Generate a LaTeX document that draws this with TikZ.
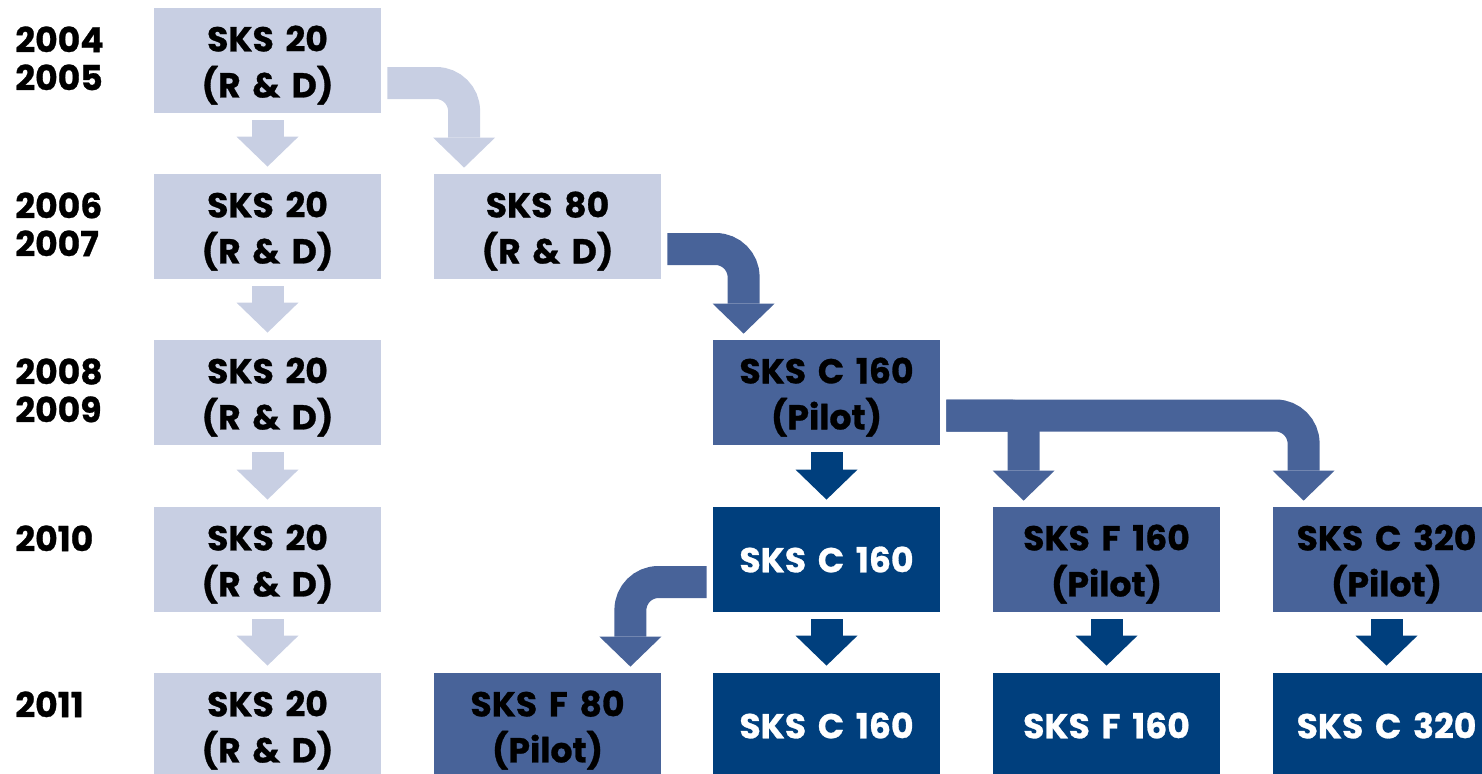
\documentclass[tikz,border=0pt]{standalone}
\usepackage{fontspec}
\setmainfont{Poppins}[BoldFeatures={FakeBold=0.8},WordSpace=1.6]
\usetikzlibrary{arrows.meta,calc}
\definecolor{lightb}{RGB}{200,207,227}
\definecolor{midb}{RGB}{72,99,153}
\definecolor{darkb}{RGB}{0,63,125}
\newcommand\twoline[2]{\raisebox{-2.3pt}[\height][\depth]{#1}\\\raisebox{-2.3pt}[\height][\depth]{#2}}
\begin{document}
\begin{tikzpicture}[x=0.5pt,y=-0.5pt,
  box/.style={minimum width=113.5pt,minimum height=52.5pt,inner sep=0pt,align=center,
    font=\fontsize{17.3}{23}\selectfont\bfseries},
  lbox/.style={box,fill=lightb,text=black},
  mbox/.style={box,fill=midb,text=black},
  dbox/.style={box,fill=darkb,text=white},
  year/.style={anchor=north west,inner sep=0pt,align=left,
    font=\fontsize{17.3}{19}\selectfont\bfseries},
  blk/.style={line width=16pt,line cap=butt,
    -{Triangle[width=31pt,length=15pt,line width=0pt]},
    shorten <=3.5pt,shorten >=3.5pt},
  lblk/.style={blk,draw=lightb},
  mblk/.style={blk,draw=midb},
  dblk/.style={blk,draw=darkb},
  curved/.style={rounded corners=14pt,shorten <=3pt,shorten >=3pt}]
\useasboundingbox (0,0) rectangle (1482,773);
% column 1
\node[lbox] (r1c1) at (267.5,60.5) {\twoline{SKS 20}{(R \& D)}};
\node[lbox] (r2c1) at (267.5,226.5) {\twoline{SKS 20}{(R \& D)}};
\node[lbox] (r3c1) at (267.5,392.5) {\twoline{SKS 20}{(R \& D)}};
\node[lbox] (r4c1) at (267.5,559.5) {\twoline{SKS 20}{(R \& D)}};
\node[lbox] (r5c1) at (267.5,725.5) {\twoline{SKS 20}{(R \& D)}};
% column 2
\node[lbox] (r2c2) at (547.5,226.5) {\twoline{SKS 80}{(R \& D)}};
\node[mbox] (r5c2) at (547.5,725.5) {\twoline{SKS F 80}{(Pilot)}};
% column 3
\node[mbox] (r3c3) at (826.5,392.5) {\twoline{SKS C 160}{(Pilot)}};
\node[dbox] (r4c3) at (826.5,559.5) {SKS C 160};
\node[dbox] (r5c3) at (826.5,725.5) {SKS C 160};
% column 4
\node[mbox] (r4c4) at (1106.5,559.5) {\twoline{SKS F 160}{(Pilot)}};
\node[dbox] (r5c4) at (1106.5,725.5) {SKS F 160};
% column 5
\node[mbox] (r4c5) at (1386.5,559.5) {\twoline{SKS C 320}{(Pilot)}};
\node[dbox] (r5c5) at (1386.5,725.5) {SKS C 320};
% years
\node[year] (y1) at (15,26) {2004\\2005};
\node[year] (y2) at (15,192) {2006\\2007};
\node[year] (y3) at (15,358) {2008\\2009};
\node[year] (y4) at (15,525) {2010};
\node[year] (y5) at (15,691) {2011};
% straight arrows
\draw[lblk] (r1c1.south) -- (r2c1.north);
\draw[lblk] (r2c1.south) -- (r3c1.north);
\draw[lblk] (r3c1.south) -- (r4c1.north);
\draw[lblk] (r4c1.south) -- (r5c1.north);
\draw[dblk] (r3c3.south) -- (r4c3.north);
\draw[dblk] (r4c3.south) -- (r5c3.north);
\draw[dblk] (r4c4.south) -- (r5c4.north);
\draw[dblk] (r4c5.south) -- (r5c5.north);
% curved arrows
\coordinate (s1) at ($(r1c1.east)+(0,22.5)$);
\coordinate (s2) at ($(r2c2.east)+(0,22.5)$);
\coordinate (s3) at ($(r3c3.east)+(0,23)$);
\coordinate (s4) at ($(r4c3.west)+(0,22.5)$);
\draw[lblk,curved] (s1) -| ($(r2c2.north west)+(30.5,0)$);
\draw[mblk,curved] (s2) -| ($(r3c3.north west)+(31,0)$);
\draw[mblk,curved] (s3) -| ($(r4c5.north west)+(31,0)$);
\draw[mblk,curved,rounded corners=7pt] (s3) -| ($(r4c4.north west)+(31,0)$);
\draw[mblk,curved] (s4) -| ($(r5c2.north east)+(-31,0)$);
\end{tikzpicture}
\end{document}
